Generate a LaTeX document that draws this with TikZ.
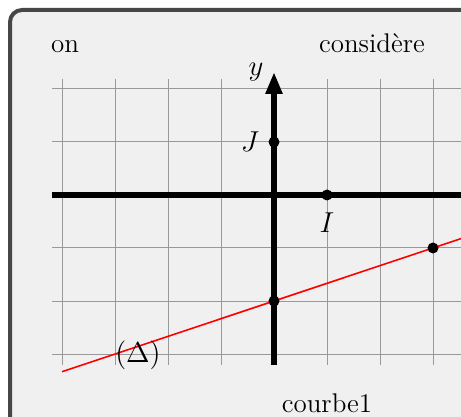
\documentclass[tikz,border=0pt]{standalone}
\usetikzlibrary{arrows.meta}
\definecolor{framegray}{HTML}{474747}
\definecolor{bggray}{HTML}{F0F0F0}
\definecolor{gridgray}{HTML}{999999}
\tikzset{
  lbl/.style={inner sep=0pt, font=\fontsize{13.5}{15}\selectfont},
  gridline/.style={draw=gridgray, line width=0.5pt},
  axisline/.style={draw=black, line width=2.8pt},
  dot/.style={circle, fill=black, inner sep=0pt, minimum size=5.5pt},
  redline/.style={draw=red, line width=0.8pt}
}
\begin{document}
\begin{tikzpicture}[x=0.5pt,y=-0.5pt]
\useasboundingbox (0,0) rectangle (461,417);
\clip (0,0) rectangle (461,417);
% frame
\draw[draw=framegray, fill=bggray, line width=2pt, rounded corners=6pt] (10,10) rectangle (500,460);
% grid
\foreach \gx in {62,115,168,221,274,327,380,433,486}
  \draw[gridline] (\gx,79) -- (\gx,365);
\foreach \gy in {89,142,195,248,301,354}
  \draw[gridline] (52,\gy) -- (500,\gy);
% axes
\coordinate (xs) at (52,195);
\coordinate (xe) at (500,195);
\coordinate (ys) at (274,365);
\coordinate (ye) at (274,72);
\draw[axisline] (xs) -- (xe);
\draw[axisline, -{Triangle[length=11pt,width=8pt]}] (ys) -- (ye);
% red line
\coordinate (d1) at (62,371.7);
\coordinate (d2) at (486,230.3);
\draw[redline] (d1) -- (d2);
% points
\node[dot] (J) at (274,142) {};
\node[dot] (I) at (327,195) {};
\node[dot] (A) at (433,248) {};
\node[dot] (B) at (274,301) {};
% labels
\node[lbl, anchor=base] (on) at (65,53) {on};
\node[lbl, anchor=base] (cons) at (372,53) {considère};
\node[lbl] (ylab) at (256,72) {$y$};
\node[lbl] (Jlab) at (250,142) {$J$};
\node[lbl] (Ilab) at (327,223) {$I$};
\node[lbl] (dlab) at (138,355) {$(\Delta)$};
\node[lbl, anchor=base] (courbe) at (327,412) {courbe1};
\end{tikzpicture}
\end{document}
